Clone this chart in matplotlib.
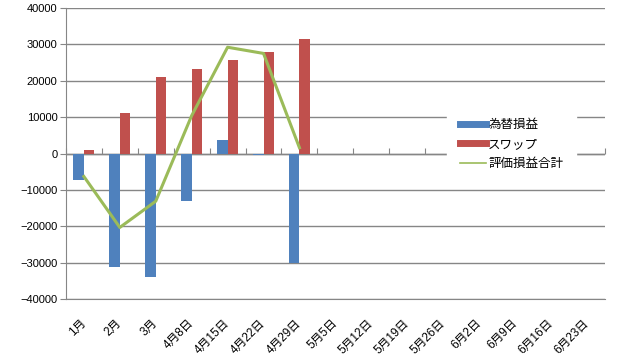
import numpy as np
import matplotlib
matplotlib.use("Agg")
import matplotlib.pyplot as plt
from matplotlib.lines import Line2D

plt.rcParams['font.family'] = ['Liberation Sans', 'Noto Sans CJK JP', 'DejaVu Sans']

# データ
labels = ["1月", "2月", "3月", "4月8日", "4月15日", "4月22日", "4月29日", "5月5日",
          "5月12日", "5月19日", "5月26日", "6月2日", "6月9日", "6月16日", "6月23日"]
fx = [-7400, -31300, -34000, -12900, 3600, -500, -30000]
swap = [1100, 11000, 20900, 23300, 25600, 28000, 31600]
total = [-6300, -20300, -13100, 10400, 29200, 27500, 1600]

blue = "#4F81BD"
red = "#C0504D"
green = "#9BBB59"
grid = "#868686"

fig = plt.figure(figsize=(6.4, 3.6), dpi=100)
ax = fig.add_axes([0.103, 0.169, 0.842, 0.809])

x = np.arange(len(labels))
n = len(fx)
w = 0.29
ax.bar(x[:n] - w / 2, fx, w, color=blue, zorder=3)
ax.bar(x[:n] + w / 2, swap, w, color=red, zorder=3)
ax.plot(x[:n], total, color=green, linewidth=2.2, zorder=4)

ax.set_xlim(-0.5, len(labels) - 0.5)
ax.set_ylim(-40000, 40000)
ax.set_yticks(np.arange(-40000, 40001, 10000))
ax.yaxis.grid(True, color=grid, linewidth=1)
ax.set_axisbelow(True)
ax.tick_params(axis='y', length=4, color=grid, labelsize=8, pad=2)

ax.set_xticks(x)
ax.set_xticklabels(labels, rotation=45, ha='right', va='center',
                   rotation_mode='anchor', fontsize=8.5)
ax.tick_params(axis='x', length=0, pad=16)

for s in ["top", "right"]:
    ax.spines[s].set_visible(False)
ax.spines["left"].set_color(grid)
ax.spines["bottom"].set_color(grid)

# 0の位置の横軸と目盛り
ax.axhline(0, color=grid, linewidth=1, zorder=2)
sec = ax.secondary_xaxis(0.5)
sec.set_xticks(np.arange(-0.5, len(labels), 1.0))
sec.set_xticklabels([])
sec.tick_params(length=4, color=grid)
for s in sec.spines.values():
    s.set_visible(False)

handles = [Line2D([0], [0], color=blue, linewidth=5),
           Line2D([0], [0], color=red, linewidth=5),
           Line2D([0], [0], color=green, linewidth=1.2)]
leg = ax.legend(handles, ["為替損益", "スワップ", "評価損益合計"], loc='upper left',
                bbox_to_anchor=(0.722, 0.635), frameon=True, fontsize=9,
                handlelength=2.1, handletextpad=0.15, labelspacing=0.6,
                borderpad=0.4, borderaxespad=0)
leg.get_frame().set_edgecolor("white")
leg.get_frame().set_facecolor("white")
leg.get_frame().set_alpha(1)
leg.get_frame().set_boxstyle("square", pad=0.6)
leg.set_zorder(10)

fig.savefig("out.png", dpi=100)
